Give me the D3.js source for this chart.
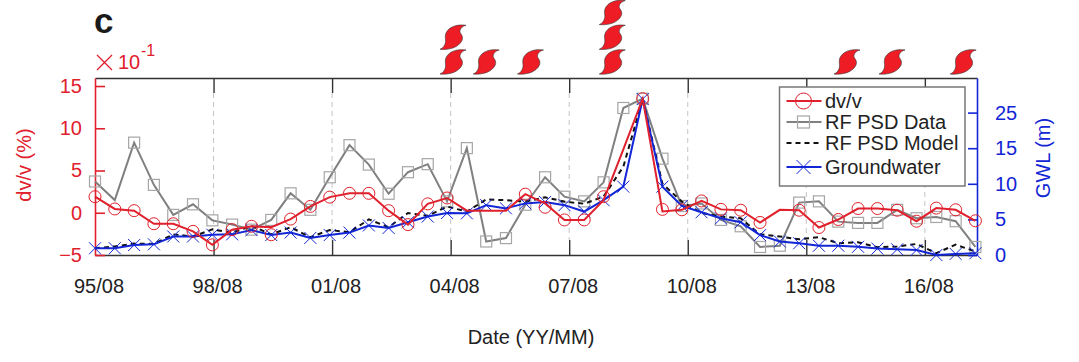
<!DOCTYPE html>
<html>
<head>
<meta charset="utf-8">
<script src="https://cdn.jsdelivr.net/npm/d3@7"></script>
<style>
  html, body { margin: 0; padding: 0; background: #fff; }
  svg { display: block; }
  text { font-family: "Liberation Sans", Arial, sans-serif; }
</style>
</head>
<body>
<div id="chart"></div>
<script>
// years since 95/08 for each half-yearly sample
const sampleYears = [0, 0.5, 0.99, 1.49, 1.98, 2.48, 2.97, 3.47, 3.96, 4.46, 4.95, 5.45, 5.94, 6.44, 6.93, 7.43,
  7.92, 8.42, 8.91, 9.41, 9.9, 10.4, 10.89, 11.39, 11.88, 12.38, 12.87, 13.37, 13.86, 14.36, 14.85, 15.35,
  15.84, 16.34, 16.83, 17.33, 17.82, 18.32, 18.81, 19.31, 19.8, 20.3, 20.79, 21.29, 21.78, 22.28];

const dvvLine = [1.9, 0.45, 0.25, -1.3, -1.3, -2.2, -3.8, -2.0, -1.6, -1.7, -0.75, 0.75, 1.85, 2.3, 2.3, 0.25,
  -1.4, 1.05, 1.75, 0.25, 0.25, 0.25, 2.2, 1.1, -0.85, -0.85, 1.5, 7.5, 13.5, 0.15, 0.35, 1.4,
  0.4, 0.3, -1.15, 0.35, 0.3, -1.75, -0.8, 0.5, 0.5, 0.3, -1.0, 0.55, 0.35, -0.95];
// circles sit off the line in a few places, and some samples have none
const dvvCircles = [1.9, 0.45, 0.25, -1.3, -1.3, -2.2, -3.8, -2.0, -1.6, -2.6, -0.75, 0.75, 1.85, 2.3, 2.3, 0.25,
  -1.4, 1.05, 1.75, null, null, null, 2.2, 0.65, -0.85, -0.85, 1.9, null, 13.5, 0.4, 0.35, 1.4,
  0.4, 0.3, -1.15, null, 0.3, -1.75, -0.8, 0.5, 0.5, 0.3, -1.0, 0.55, 0.35, -0.95];

const psdData = [3.7, 1.5, 8.3, 3.3, -0.25, 1.0, -0.9, -1.4, -2.0, -0.85, 2.3, 0.35, 4.2, 8.0, 5.7, 2.25,
  4.8, 5.75, 1.35, 7.65, -3.4, -3.0, 0.95, 4.2, 1.9, 1.35, 3.6, 12.4, 13.5, 6.4, 0.8, 1.1,
  -0.85, -1.6, -4.05, -3.9, 1.2, 1.35, -1.05, -1.2, -1.2, 0.35, -0.65, -0.5, -1.0, -4.05];
const psdMarked = [true, false, true, true, true, true, true, true, true, true, true, true, true, true, true, true,
  true, true, true, true, true, true, true, true, true, true, true, true, true, true, true, true,
  true, true, true, true, true, true, true, true, true, true, true, true, true, true];

const psdModel = [0.95, 1.2, 1.6, 1.55, 2.9, 2.6, 3.6, 3.1, 4.1, 2.9, 3.9, 2.5, 3.5, 3.2, 5.0, 3.9,
  5.9, 5.5, 6.8, 6.1, 7.8, 7.7, 7.5, 8.1, 7.5, 7.2, 8.2, 12.4, 21.9, 10.0, 7.5, 5.9,
  5.4, 5.15, 2.9, 2.6, 2.2, 2.5, 1.65, 1.8, 1.1, 1.2, 1.55, 0.25, 1.45, 0.5];

const groundwater = [0.95, 0.95, 1.4, 1.5, 2.6, 2.6, 2.85, 2.9, 3.5, 2.8, 3.15, 2.4, 2.8, 3.15, 4.15, 3.8,
  4.6, 5.4, 5.9, 5.85, 7.0, 6.55, 7.25, 7.45, 7.0, 6.1, 7.7, 9.6, 21.9, 9.6, 6.9, 6.0,
  5.15, 4.6, 2.8, 1.9, 1.65, 1.3, 1.3, 1.15, 0.9, 0.8, 0.7, 0, 0.15, 0.25];

const tickYears = [0, 3, 6, 9, 12, 15, 18, 21];
const tickLabels = ["95/08", "98/08", "01/08", "04/08", "07/08", "10/08", "13/08", "16/08"];
const dvvTicks = [-5, 0, 5, 10, 15];
const gwlTicks = [0, 5, 10, 15, 20];
const gwlTickLabels = ["0", "5", "10", "15", "25"];

const stormYears = [9.06, 9.9, 11.02, 13.09, 19.03, 20.17, 21.97];
const stormCounts = [2, 1, 1, 3, 1, 1, 1];

const RED = "#e0202c";
const BLUE = "#1226d6";
const GREY = "#808080";
const MARK_GREY = "#a6a6a6";
const DARK = "#222";

const margin = { left: 95, top: 78, right: 102, bottom: 107 };
const width = 1079 - margin.left - margin.right;
const height = 362 - margin.top - margin.bottom;

const svg = d3.select("#chart").append("svg").attr("width", 1079).attr("height", 362);
const g = svg.append("g").attr("transform", `translate(${margin.left},${margin.top})`);

const x = d3.scaleLinear().domain([0, 22.32]).range([0, width]);
const yDvv = d3.scaleLinear().domain([-5, 15.95]).range([height, 0]);
const yGwl = d3.scaleLinear().domain([0, 24.86]).range([height, 0]);

// Dashed guides between the short year ticks
g.selectAll("line.guide")
  .data(tickYears.slice(1))
  .enter()
  .append("line")
  .attr("class", "guide")
  .attr("x1", (d) => x(d))
  .attr("x2", (d) => x(d))
  .attr("y1", 15)
  .attr("y2", height - 15)
  .attr("stroke", "#c4c4c4")
  .attr("stroke-width", 1)
  .attr("stroke-dasharray", "5 4");

// Axes
const xBottom = g.append("g")
  .attr("transform", `translate(0,${height})`)
  .call(d3.axisBottom(x).tickValues(tickYears).tickSizeInner(-15).tickSizeOuter(0).tickPadding(24)
    .tickFormat((d, i) => tickLabels[i]));
const xTop = g.append("g")
  .call(d3.axisTop(x).tickValues(tickYears).tickSizeInner(-15).tickSizeOuter(0).tickFormat(""));
[xBottom, xTop].forEach((axis) => {
  axis.select(".domain").attr("stroke", "#333").attr("stroke-width", 1.6);
  axis.selectAll(".tick line").attr("stroke", "#333").attr("stroke-width", 1.4)
    .filter((d) => d === 0).remove();
});
xBottom.selectAll("text").attr("font-size", 20).attr("fill", DARK).attr("dx", 3.5);

const yLeft = g.append("g")
  .call(d3.axisLeft(yDvv).tickValues(dvvTicks).tickSizeInner(-10).tickSizeOuter(0).tickPadding(13));
yLeft.selectAll(".domain, .tick line").attr("stroke", RED).attr("stroke-width", 1.6);
yLeft.selectAll("text").attr("font-size", 20).attr("fill", RED);

const yRight = g.append("g")
  .attr("transform", `translate(${width},0)`)
  .call(d3.axisRight(yGwl).tickValues(gwlTicks).tickSizeInner(-9).tickSizeOuter(0).tickPadding(18)
    .tickFormat((d, i) => gwlTickLabels[i]));
yRight.selectAll(".domain, .tick line").attr("stroke", BLUE).attr("stroke-width", 1.6);
yRight.selectAll("text").attr("font-size", 20).attr("fill", BLUE);

// Series lines
const lineOf = (scale) => d3.line().x((d, i) => x(sampleYears[i])).y((d) => scale(d));

g.append("path").attr("d", lineOf(yDvv)(psdData))
  .attr("fill", "none").attr("stroke", GREY).attr("stroke-width", 2);

g.selectAll("rect.psd")
  .data(psdData.map((v, i) => ({ v, i })).filter((d) => psdMarked[d.i]))
  .enter()
  .append("rect")
  .attr("class", "psd")
  .attr("x", (d) => x(sampleYears[d.i]) - 5.5)
  .attr("y", (d) => yDvv(d.v) - 5.5)
  .attr("width", 11)
  .attr("height", 11)
  .attr("fill", "none")
  .attr("stroke", MARK_GREY)
  .attr("stroke-width", 1.2);

g.append("path").attr("d", lineOf(yGwl)(psdModel))
  .attr("fill", "none").attr("stroke", "#111").attr("stroke-width", 2).attr("stroke-dasharray", "5 4");

g.append("path").attr("d", lineOf(yGwl)(groundwater))
  .attr("fill", "none").attr("stroke", BLUE).attr("stroke-width", 2);

const crossPath = (r) => `M${-r},${-r}L${r},${r}M${-r},${r}L${r},${-r}`;
g.selectAll("path.gw")
  .data(groundwater)
  .enter()
  .append("path")
  .attr("class", "gw")
  .attr("transform", (d, i) => `translate(${x(sampleYears[i])},${yGwl(d)})`)
  .attr("d", crossPath(6))
  .attr("fill", "none")
  .attr("stroke", BLUE)
  .attr("stroke-width", 1);

g.append("path").attr("d", lineOf(yDvv)(dvvLine))
  .attr("fill", "none").attr("stroke", RED).attr("stroke-width", 2);

g.selectAll("circle.dvv")
  .data(dvvCircles.map((v, i) => ({ v, i })).filter((d) => d.v !== null))
  .enter()
  .append("circle")
  .attr("class", "dvv")
  .attr("cx", (d) => x(sampleYears[d.i]))
  .attr("cy", (d) => yDvv(d.v))
  .attr("r", 6)
  .attr("fill", "none")
  .attr("stroke", RED)
  .attr("stroke-width", 1);

// Storm symbols stacked above the top axis
const stormPath = "M13,-12C7,-13,-2,-12,-6,-6C-9,-2,-7,2,-7.5,5C-8,8,-10,11,-13,12C-4,13,6,10,9,3C10.5,-1,8,-3,7,-5C6.5,-8,9,-11,13,-12Z";
stormYears.forEach((year, i) => {
  d3.range(stormCounts[i]).forEach((k) => {
    g.append("path")
      .attr("d", stormPath)
      .attr("transform", `translate(${x(year)},${-16 - k * 24.7})`)
      .attr("fill", "#ee1c25")
      .attr("stroke", "#333")
      .attr("stroke-width", 0.6);
  });
});

// Legend
const legend = svg.append("g").attr("transform", "translate(779.5,87)");
legend.append("rect")
  .attr("width", 185.5)
  .attr("height", 99)
  .attr("fill", "#fff")
  .attr("stroke", "#777")
  .attr("stroke-width", 1.5);

const legendNames = ["dv/v", "RF PSD Data", "RF PSD Model", "Groundwater"];
const legendRows = [14, 35, 56, 80];
legendNames.forEach((name, i) => {
  const row = legend.append("g").attr("transform", `translate(0,${legendRows[i]})`);
  const sample = row.append("line").attr("x1", 7).attr("x2", 42).attr("stroke-width", 2);
  if (i === 0) {
    sample.attr("stroke", RED);
    row.append("circle").attr("cx", 24).attr("r", 8).attr("fill", "none").attr("stroke", RED);
  } else if (i === 1) {
    sample.attr("stroke", GREY);
    row.append("rect").attr("x", 18).attr("y", -6).attr("width", 12).attr("height", 12)
      .attr("fill", "none").attr("stroke", MARK_GREY).attr("stroke-width", 1.2);
  } else if (i === 2) {
    sample.attr("stroke", "#111").attr("stroke-dasharray", "5 4");
  } else {
    sample.attr("stroke", BLUE);
    row.append("path").attr("transform", "translate(24,0)").attr("d", crossPath(7))
      .attr("fill", "none").attr("stroke", BLUE);
  }
  row.append("text")
    .attr("x", 45.5)
    .attr("dy", "0.36em")
    .attr("font-size", 20)
    .attr("fill", DARK)
    .text(name);
});

// Labels
svg.append("text").attr("x", 94).attr("y", 33).attr("font-size", 35).attr("font-weight", "bold")
  .attr("fill", "#1a1a1a").text("c");

svg.append("path").attr("transform", "translate(104.5,62.5)").attr("d", crossPath(7.5))
  .attr("fill", "none").attr("stroke", RED).attr("stroke-width", 1.3);
svg.append("text").attr("x", 118).attr("y", 69).attr("font-size", 20).attr("fill", RED).text("10");
svg.append("text").attr("x", 141).attr("y", 56).attr("font-size", 16).attr("fill", RED).text("-1");

svg.append("text")
  .attr("transform", "translate(31,165) rotate(-90)")
  .attr("text-anchor", "middle")
  .attr("font-size", 20)
  .attr("fill", RED)
  .text("dv/v (%)");

svg.append("text")
  .attr("transform", "translate(1050,158) rotate(-90)")
  .attr("text-anchor", "middle")
  .attr("font-size", 20)
  .attr("fill", BLUE)
  .text("GWL (m)");

svg.append("text")
  .attr("x", 531)
  .attr("y", 344)
  .attr("text-anchor", "middle")
  .attr("font-size", 20)
  .attr("fill", DARK)
  .text("Date (YY/MM)");
</script>
</body>
</html>
